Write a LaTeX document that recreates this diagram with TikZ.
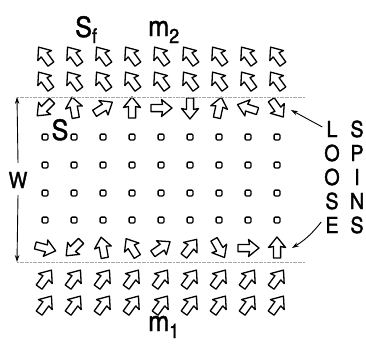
\documentclass[tikz,border=0pt]{standalone}
\usepackage{fontspec}
\setmainfont{TeX Gyre Heros}
\newfontfamily\lett[FakeBold=1.6]{TeX Gyre Heros}
\usetikzlibrary{arrows.meta}
\tikzset{
  blk/.pic={\draw[line width=1.3pt,line join=round,fill=white]
     (11,0) -- (0.5,8.5) -- (1.5,3.6) -- (-10,3.6) -- (-10,-3.6) -- (1.5,-3.6) -- (0.5,-8.5) -- cycle;},
  dot/.pic={\draw[line width=1.3pt,rounded corners=1pt] (-2.9,-2.9) rectangle (2.9,2.9);},
  surf/.style={gray!70,line width=1pt,dash pattern=on 2pt off 0.6pt},
  lbl/.style={inner sep=0pt},
  thin/.style={line width=0.9pt,-{Stealth[length=7pt,width=4.5pt]}},
}
\newcommand\nar[1]{\scalebox{0.9}[1]{#1}}
\newcommand\bigtxt[1]{{\lett\fontsize{28}{28}\selectfont #1}}
\newcommand\smtxt[1]{{\lett\fontsize{20}{20}\selectfont #1}}
\newcommand\captxt[1]{{\lett\fontsize{22}{22}\selectfont\nar{#1}}}
\begin{document}
\begin{tikzpicture}[x=1pt,y=-1pt]
\useasboundingbox (0,0) rectangle (366,343);
% top two rows
\foreach \r in {56,81}{
  \foreach \i in {0,...,8}{ \pic[rotate=126] at ({45+29*\i},\r) {blk}; } }
% bottom two rows
\foreach \r in {279,305}{
  \foreach \i in {0,...,8}{ \pic[rotate=54] at ({45+29*\i},\r) {blk}; } }
% loose spin row near top surface
\foreach \a [count=\i from 0] in {225,100,32,90,0,270,78,162,305}{
  \pic[rotate=\a] at ({45+29*\i},108) {blk}; }
% loose spin row near bottom surface
\foreach \a [count=\i from 0] in {-15,225,100,122,35,52,-60,0,90}{
  \pic[rotate=\a] at ({45+29*\i},248) {blk}; }
% interior squares
\foreach \r in {137,165,193,220}{
  \foreach \i in {0,...,8}{ \pic at ({45+29*\i},\r) {dot}; } }
% surfaces
\coordinate (tl) at (17,97);
\coordinate (tr) at (305,97);
\coordinate (bl) at (17,262);
\coordinate (br) at (305,262);
\draw[surf] (tl) -- (tr);
\draw[surf] (bl) -- (br);
% labels
\node[lbl,anchor=base west] (Sf) at (75,37) {\bigtxt{\nar{S}}\raisebox{-6pt}{\smtxt{\nar{f}}}};
\node[lbl,anchor=base west] (m2) at (148,36) {\bigtxt{\nar{m}}\raisebox{-7pt}{\smtxt{\nar{2}}}};
\node[lbl,anchor=base west] (m1) at (148,331) {\bigtxt{\nar{m}}\raisebox{-7pt}{\smtxt{\nar{1}}}};
\node[lbl,anchor=base] (Ss) at (60,140) {\bigtxt{\nar{S}}};
\node[lbl] (W) at (18,180) {\captxt{W}};
\draw[thin] ([yshift=9pt]W.north) -- (tl);
\draw[thin] ([yshift=-7pt]W.south) -- (bl);
% LOOSE SPINS
\foreach \c [count=\k from 0] in {L,O,O,S,E}{
  \node[lbl] (lo\k) at (332,{129+24*\k}) {\captxt{\c}}; }
\foreach \c [count=\k from 0] in {S,P,I,N,S}{
  \node[lbl] (sp\k) at (357,{129+24*\k}) {\captxt{\c}}; }
\coordinate (ta) at (291,110);
\coordinate (tb) at (292,248);
\draw[thin] ([xshift=-4pt,yshift=2pt]lo0.west) -- (ta);
\draw[thin] ([xshift=-4pt,yshift=3pt]lo4.west) to[bend left=10] (tb);
\end{tikzpicture}
\end{document}
